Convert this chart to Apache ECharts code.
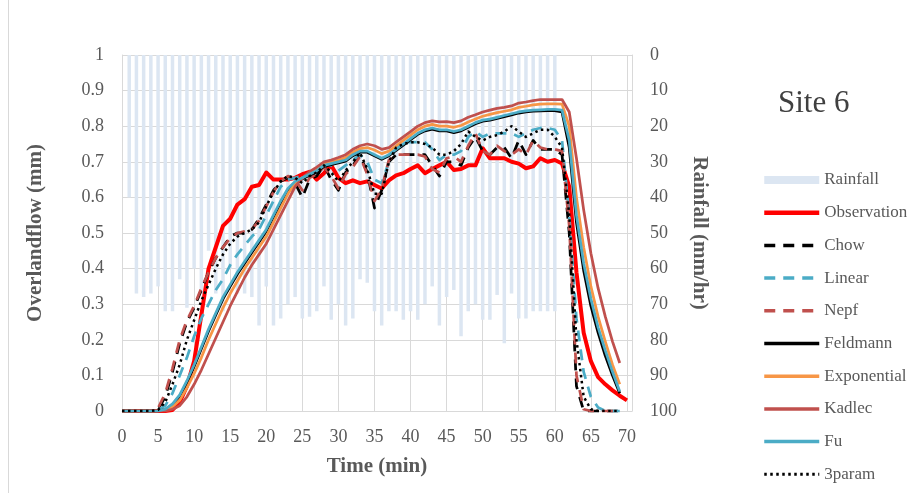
<!DOCTYPE html>
<html>
<head>
<meta charset="utf-8">
<script src="https://cdn.jsdelivr.net/npm/echarts@6/dist/echarts.min.js"></script>
<style>html,body{margin:0;padding:0;background:#fff;}#c{width:910px;height:493px;}</style>
</head>
<body>
<div id="c"></div>
<script>
// ---- data ----
const minutes = [0,1,2,3,4,5,6,7,8,9,10,11,12,13,14,15,16,17,18,19,20,21,22,23,24,25,26,27,28,29,30,31,32,33,34,35,36,37,38,39,40,41,42,43,44,45,46,47,48,49,50,51,52,53,54,55,56,57,58,59,60,61,62,63,64,65,66,67,68,69,70];
const rainMinutes = [1,2,3,4,5,6,7,8,9,10,11,12,13,14,15,16,17,18,19,20,21,22,23,24,25,26,27,28,29,30,31,32,33,34,35,36,37,38,39,40,41,42,43,44,45,46,47,48,49,50,51,52,53,54,55,56,57,58,59,60];
const rainfall = [40,67,68,67,65,72,72,63,71,60,67,55,67,72,60,67,67,68,76,65,76,74,70,68,74,73.5,72,65,74.4,70,76,74,63,64,72,76,72,72,74.4,72,74.4,70,65,76,68,66,79,72,70,74.4,74.4,67.4,81,67,74,74,72,72,72,72];
const observation = [0,0,0,0,0,0,0,0.003,0.025,0.07,0.14,0.27,0.40,0.46,0.52,0.54,0.58,0.595,0.63,0.635,0.67,0.65,0.65,0.65,0.655,0.665,0.672,0.65,0.668,0.69,0.655,0.64,0.648,0.64,0.645,0.635,0.625,0.648,0.662,0.668,0.68,0.69,0.668,0.68,0.69,0.70,0.677,0.68,0.69,0.69,0.738,0.71,0.71,0.71,0.70,0.695,0.682,0.687,0.71,0.70,0.705,0.695,0.63,0.39,0.22,0.14,0.095,0.075,0.058,0.043,0.03];
const chow = [0,0,0,0,0,0.005,0.04,0.11,0.19,0.25,0.29,0.34,0.39,0.43,0.46,0.49,0.50,0.50,0.51,0.54,0.58,0.62,0.645,0.655,0.64,0.60,0.65,0.66,0.69,0.65,0.62,0.67,0.69,0.72,0.67,0.57,0.62,0.70,0.72,0.72,0.72,0.72,0.72,0.69,0.66,0.70,0.70,0.69,0.74,0.77,0.73,0.72,0.74,0.74,0.71,0.76,0.72,0.76,0.735,0.735,0.735,0.72,0.50,0.07,0,0,0,0,0,0];
const linear = [0,0,0,0,0,0.002,0.015,0.05,0.10,0.15,0.21,0.26,0.30,0.34,0.37,0.41,0.44,0.465,0.49,0.51,0.55,0.59,0.63,0.65,0.655,0.66,0.665,0.675,0.695,0.69,0.675,0.69,0.705,0.72,0.70,0.65,0.64,0.70,0.74,0.755,0.755,0.755,0.755,0.735,0.705,0.72,0.72,0.73,0.77,0.785,0.77,0.78,0.78,0.78,0.78,0.77,0.78,0.79,0.795,0.795,0.79,0.76,0.55,0.26,0.11,0.04,0.01,0,0,0];
const nepf = [0,0,0,0,0,0.008,0.05,0.12,0.20,0.255,0.295,0.345,0.39,0.43,0.46,0.485,0.50,0.505,0.51,0.535,0.575,0.615,0.645,0.66,0.65,0.62,0.655,0.665,0.685,0.66,0.625,0.665,0.685,0.715,0.665,0.59,0.625,0.705,0.72,0.72,0.72,0.72,0.715,0.68,0.67,0.71,0.715,0.70,0.745,0.78,0.73,0.72,0.745,0.73,0.72,0.735,0.72,0.76,0.74,0.735,0.735,0.73,0.52,0.10,0.005,0,0,0,0,0];
const feldmann = [0,0,0,0,0,0,0.004,0.018,0.042,0.08,0.125,0.175,0.225,0.27,0.315,0.35,0.385,0.415,0.445,0.475,0.505,0.545,0.585,0.62,0.64,0.652,0.662,0.672,0.687,0.692,0.697,0.702,0.717,0.727,0.727,0.717,0.707,0.717,0.732,0.747,0.762,0.777,0.787,0.792,0.787,0.787,0.782,0.787,0.797,0.807,0.814,0.817,0.822,0.827,0.832,0.837,0.84,0.842,0.843,0.844,0.844,0.84,0.74,0.53,0.395,0.295,0.22,0.155,0.10,0.05];
const exponential = [0,0,0,0,0,0,0.003,0.012,0.03,0.065,0.105,0.15,0.20,0.245,0.29,0.33,0.365,0.40,0.43,0.46,0.49,0.53,0.57,0.61,0.64,0.655,0.668,0.678,0.693,0.70,0.705,0.712,0.727,0.737,0.74,0.733,0.723,0.73,0.745,0.76,0.775,0.79,0.80,0.805,0.80,0.80,0.797,0.802,0.812,0.82,0.828,0.833,0.838,0.842,0.846,0.853,0.856,0.86,0.862,0.863,0.863,0.862,0.80,0.60,0.46,0.35,0.265,0.195,0.13,0.075];
const kadlec = [0,0,0,0,0,0,0,0.005,0.015,0.04,0.075,0.115,0.16,0.205,0.25,0.295,0.335,0.375,0.41,0.44,0.47,0.51,0.55,0.59,0.63,0.655,0.672,0.685,0.70,0.705,0.712,0.72,0.735,0.745,0.75,0.745,0.735,0.74,0.755,0.77,0.785,0.80,0.81,0.815,0.812,0.813,0.81,0.815,0.825,0.832,0.84,0.845,0.85,0.853,0.857,0.865,0.868,0.872,0.875,0.875,0.875,0.875,0.84,0.71,0.565,0.443,0.345,0.265,0.195,0.135];
const fu = [0,0,0,0,0,0,0.005,0.02,0.045,0.085,0.13,0.18,0.23,0.275,0.32,0.355,0.39,0.42,0.45,0.48,0.51,0.55,0.59,0.625,0.645,0.655,0.665,0.675,0.69,0.695,0.70,0.705,0.72,0.73,0.73,0.72,0.71,0.72,0.735,0.75,0.765,0.78,0.79,0.795,0.79,0.79,0.785,0.79,0.80,0.81,0.817,0.82,0.825,0.83,0.835,0.84,0.843,0.845,0.846,0.847,0.847,0.845,0.76,0.55,0.415,0.315,0.235,0.17,0.11,0.055];
const threeParam = [0,0,0,0,0,0.003,0.025,0.075,0.13,0.20,0.255,0.31,0.355,0.40,0.44,0.47,0.49,0.50,0.51,0.53,0.575,0.615,0.645,0.66,0.655,0.64,0.66,0.67,0.69,0.67,0.645,0.675,0.70,0.725,0.68,0.61,0.61,0.70,0.74,0.75,0.755,0.755,0.75,0.74,0.72,0.72,0.73,0.75,0.785,0.77,0.76,0.77,0.775,0.785,0.80,0.785,0.77,0.78,0.79,0.79,0.77,0.74,0.55,0.20,0.04,0.005,0,0,0,0];

const leftTicks = [0,0.1,0.2,0.3,0.4,0.5,0.6,0.7,0.8,0.9,1];
const rightTicks = [0,10,20,30,40,50,60,70,80,90,100];

// ---- build ----
function pairs(xs, ys){ return ys.map((v,i)=>[xs[i], v]); }
const FONT = 'Liberation Serif, Times New Roman, serif';
const GRAY = '#595959';
const GRID = '#d9d9d9';

const lineDefs = [
  {name:'Observation', data:observation, color:'#ff0000', width:4, type:'solid'},
  {name:'Chow', data:chow, color:'#000000', width:2.75, type:[11,8]},
  {name:'Linear', data:linear, color:'#4bacc6', width:2.75, type:[11,8]},
  {name:'Nepf', data:nepf, color:'#c0504d', width:2.75, type:[11,8]},
  {name:'Feldmann', data:feldmann, color:'#000000', width:2.75, type:'solid'},
  {name:'Exponential', data:exponential, color:'#f79646', width:2.75, type:'solid'},
  {name:'Kadlec', data:kadlec, color:'#c0504d', width:2.75, type:'solid'},
  {name:'Fu', data:fu, color:'#4bacc6', width:2.75, type:'solid'},
  {name:'3param', data:threeParam, color:'#000000', width:2.5, type:[2.5,3.5]}
];

const series = [{
  name:'Rainfall', type:'bar', yAxisIndex:1, barWidth:3.5,
  itemStyle:{color:'#dce6f2'}, data:pairs(rainMinutes, rainfall), animation:false
}].concat(lineDefs.map(d=>({
  name:d.name, type:'line', yAxisIndex:0, symbol:'none', showSymbol:false,
  data:pairs(minutes, d.data), animation:false,
  lineStyle:{color:d.color, width:d.width, type:d.type, cap:'butt', join:'round'},
  itemStyle:{color:d.color}
})));

const chart = echarts.init(document.getElementById('c'), null, {renderer:'canvas'});
chart.setOption({
  backgroundColor:'#ffffff',
  animation:false,
  grid:{left:122, right:278, top:55, bottom:82},
  xAxis:{
    type:'value', min:0, max:70.7, interval:5,
    axisLine:{show:true, lineStyle:{color:GRID, width:1}},
    axisTick:{show:false},
    splitLine:{show:true, lineStyle:{color:GRID, width:1}},
    axisLabel:{color:GRAY, fontFamily:FONT, fontSize:18, margin:17, showMaxLabel:false},
    name:'Time (min)', nameLocation:'middle', nameGap:45,
    nameTextStyle:{color:GRAY, fontFamily:FONT, fontSize:21, fontWeight:'bold'}
  },
  yAxis:[{
    type:'value', min:leftTicks[0], max:leftTicks[leftTicks.length-1], interval:0.1,
    axisLine:{show:true, lineStyle:{color:GRID}},
    axisTick:{show:false},
    splitLine:{show:true, lineStyle:{color:GRID, width:1}},
    axisLabel:{color:GRAY, fontFamily:FONT, fontSize:18, margin:18,
      formatter:v=>String(Math.round(v*10)/10)},
    name:'Overlandflow (mm)', nameLocation:'middle', nameGap:76, nameRotate:90,
    nameTextStyle:{color:GRAY, fontFamily:FONT, fontSize:21, fontWeight:'bold'}
  },{
    type:'value', min:rightTicks[0], max:rightTicks[rightTicks.length-1], interval:10, inverse:true,
    position:'right',
    axisLine:{show:true, lineStyle:{color:GRID}},
    axisTick:{show:false},
    splitLine:{show:false},
    axisLabel:{color:GRAY, fontFamily:FONT, fontSize:18, margin:18},
    name:'Rainfall (mm/hr)', nameLocation:'middle', nameGap:57, nameRotate:-90,
    nameTextStyle:{color:GRAY, fontFamily:FONT, fontSize:21, fontWeight:'bold'}
  }],
  legend:{
    orient:'vertical', left:762, top:170, padding:0,
    itemWidth:55, itemHeight:8, itemGap:12.7,
    textStyle:{color:GRAY, fontFamily:FONT, fontSize:17, lineHeight:20},
    data:[{name:'Rainfall', icon:'rect'}].concat(lineDefs.map(d=>({
      name:d.name, itemStyle:{opacity:0, borderWidth:0},
      lineStyle:{width: d.name === 'Observation' ? 4.5 : (d.name === '3param' ? 3 : 3.5)}
    })))
  },
  graphic:[{
    type:'line', shape:{x1:8.5, y1:0, x2:8.5, y2:493},
    style:{stroke:'#d9d9d9', lineWidth:1}
  },{
    type:'text', left:778, top:88,
    style:{text:'Site 6', fill:'#404040', font:'31px ' + FONT}
  }],
  series:series
});
</script>
</body>
</html>
